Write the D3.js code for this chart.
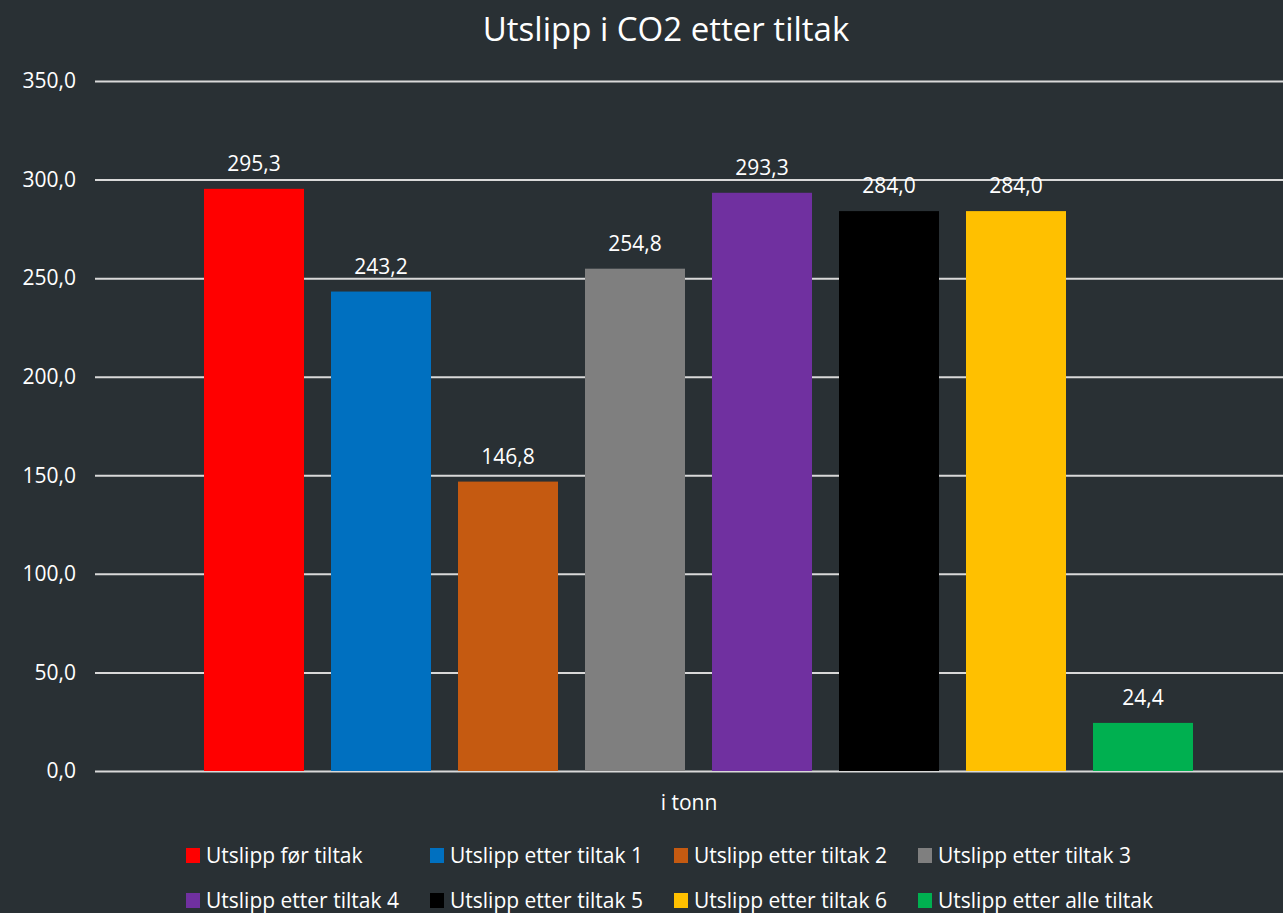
<!DOCTYPE html>
<html>
<head>
<meta charset="utf-8">
<script src="https://cdn.jsdelivr.net/npm/d3@7"></script>
<style>
  body { margin: 0; background: #293034; }
  svg { display: block; font-family: "Open Sans", sans-serif; }
</style>
</head>
<body>
<div id="chart"></div>
<script>
// data
var series = ["Utslipp før tiltak", "Utslipp etter tiltak 1", "Utslipp etter tiltak 2", "Utslipp etter tiltak 3",
              "Utslipp etter tiltak 4", "Utslipp etter tiltak 5", "Utslipp etter tiltak 6", "Utslipp etter alle tiltak"];
var values = [295.3, 243.2, 146.8, 254.8, 293.3, 284.0, 284.0, 24.4];
var colors = ["#ff0000", "#0070c0", "#c55a11", "#7f7f7f", "#7030a0", "#000000", "#ffc000", "#00b050"];
var yTicks = [0, 50, 100, 150, 200, 250, 300, 350];

var svgWidth = 1283, svgHeight = 913;
var svg = d3.select("#chart").append("svg")
  .attr("width", svgWidth)
  .attr("height", svgHeight);

svg.append("rect").attr("width", svgWidth).attr("height", svgHeight).attr("fill", "#293034");

var nb = d3.formatLocale({decimal: ",", thousands: " ", grouping: [3], currency: ["", ""]});
var fmt = nb.format(".1f");

var x = d3.scaleBand().domain(series).range([204, 1193]).paddingInner(27 / 127);
var y = d3.scaleLinear().domain([0, 350]).range([771, 81]);

// title
svg.append("text")
  .attr("x", 666).attr("y", 41)
  .attr("text-anchor", "middle")
  .attr("fill", "#ffffff")
  .style("font-size", "33px")
  .text("Utslipp i CO2 etter tiltak");

// grid + y axis
var yAxis = d3.axisLeft(y).tickValues(yTicks).tickFormat(fmt).tickSize(-(svgWidth - 95)).tickPadding(19);
var gy = svg.append("g").attr("transform", "translate(95,0)").call(yAxis);
gy.select(".domain").remove();
gy.selectAll(".tick line").attr("stroke", "#d9d9d9").attr("stroke-width", 2);
gy.selectAll(".tick text").attr("fill", "#ffffff").style("font-size", "21px").style("font-family", "Open Sans");

// bars
svg.selectAll("rect.bar")
  .data(values)
  .enter()
  .append("rect")
  .attr("class", "bar")
  .attr("x", (d, i) => x(series[i]))
  .attr("y", d => y(d))
  .attr("width", x.bandwidth())
  .attr("height", d => y(0) - y(d))
  .attr("fill", (d, i) => colors[i]);

// value labels
svg.selectAll("text.val")
  .data(values)
  .enter()
  .append("text")
  .attr("class", "val")
  .attr("x", (d, i) => x(series[i]) + x.bandwidth() / 2)
  .attr("y", d => y(d) - 18)
  .attr("text-anchor", "middle")
  .attr("fill", "#ffffff")
  .style("font-size", "21px")
  .text(d => fmt(d));

// x axis title
svg.append("text")
  .attr("x", 689).attr("y", 810)
  .attr("text-anchor", "middle")
  .attr("fill", "#ffffff")
  .style("font-size", "21px")
  .text("i tonn");

// legend
var legend = svg.append("g");
var item = legend.selectAll("g")
  .data(series)
  .enter()
  .append("g")
  .attr("transform", (d, i) => "translate(" + (186 + (i % 4) * 244) + "," + (Math.floor(i / 4) * 45 + 848) + ")");
item.append("rect")
  .attr("width", 14).attr("height", 15)
  .attr("fill", (d, i) => colors[i]);
item.append("text")
  .attr("x", 20).attr("y", 15)
  .attr("fill", "#ffffff")
  .style("font-size", "21px")
  .text(d => d);
</script>
</body>
</html>
